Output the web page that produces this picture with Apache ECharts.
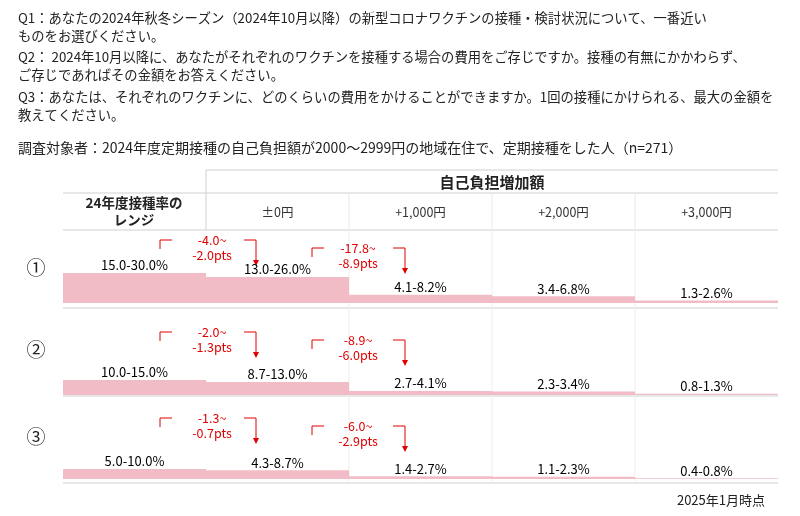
<!DOCTYPE html>
<html><head><meta charset="utf-8">
<script src="https://cdn.jsdelivr.net/npm/echarts@6/dist/echarts.min.js"></script>
<style>body{margin:0}#c{width:800px;height:516px}</style></head>
<body><div id="c"></div>
<script>
var cats = ['24年度', '±0円', '+1,000円', '+2,000円', '+3,000円'];
var row1Lo = [15.0, 13.0, 4.1, 3.4, 1.3];
var row1Hi = [30.0, 26.0, 8.2, 6.8, 2.6];
var row2Lo = [10.0, 8.7, 2.7, 2.3, 0.8];
var row2Hi = [15.0, 13.0, 4.1, 3.4, 1.3];
var row3Lo = [5.0, 4.3, 1.4, 1.1, 0.4];
var row3Hi = [10.0, 8.7, 2.7, 2.3, 0.8];
var diffs = [
  ['-4.0~', '-2.0pts', '-17.8~', '-8.9pts'],
  ['-2.0~', '-1.3pts', '-8.9~', '-6.0pts'],
  ['-1.3~', '-0.7pts', '-6.0~', '-2.9pts']
];
var colHeads = ['±0円', '+1,000円', '+2,000円', '+3,000円'];
var questions = [
  'Q1：あなたの2024年秋冬シーズン（2024年10月以降）の新型コロナワクチンの接種・検討状況について、一番近い',
  'ものをお選びください。',
  'Q2： 2024年10月以降に、あなたがそれぞれのワクチンを接種する場合の費用をご存じですか。接種の有無にかかわらず、',
  'ご存じであればその金額をお答えください。',
  'Q3：あなたは、それぞれのワクチンに、どのくらいの費用をかけることができますか。1回の接種にかけられる、最大の金額を',
  '教えてください。'
];

var font = '"Noto Sans CJK JP", sans-serif';
var chart = echarts.init(document.getElementById('c'));
var rows = [
  {lo: row1Lo, hi: row1Hi, top: 230, h: 73, mark: '①', my: 268},
  {lo: row2Lo, hi: row2Hi, top: 312, h: 83, mark: '②', my: 350},
  {lo: row3Lo, hi: row3Hi, top: 398, h: 81, mark: '③', my: 437}
];

var grids = [], xAxes = [], yAxes = [], series = [];
rows.forEach(function (r, i) {
  grids.push({left: 63, right: 22, top: r.top, height: r.h});
  xAxes.push({type: 'category', data: cats, gridIndex: i, show: false});
  yAxes.push({type: 'value', gridIndex: i, min: 0, max: r.h, show: false});
  series.push({
    type: 'bar', xAxisIndex: i, yAxisIndex: i, data: r.hi,
    barCategoryGap: 0, itemStyle: {color: '#f2bcc7'}, silent: true,
    label: {
      show: true, position: 'top', distance: 1, color: '#000', fontSize: 13,
      fontFamily: font,
      formatter: function (p) { return r.lo[p.dataIndex].toFixed(1) + '-' + r.hi[p.dataIndex].toFixed(1) + '%'; }
    }
  });
});

var g = [];
function text(x, y, s, o) {
  g.push({type: 'text', x: x, y: y, style: Object.assign({text: s, fill: '#222', font: '14px ' + font}, o || {})});
}
function line(x1, y1, x2, y2, c) {
  g.push({type: 'line', shape: {x1: x1, y1: y1, x2: x2, y2: y2}, style: {stroke: c || '#d0d0d0', lineWidth: 1}});
}
var qy = [18, 36, 57, 75, 97, 115];
questions.forEach(function (q, i) { text(18, qy[i], q, {textVerticalAlign: 'middle', font: '13.3px ' + font}); });
text(18, 148, '調査対象者：2024年度定期接種の自己負担額が2000～2999円の地域在住で、定期接種をした人（n=271）', {textVerticalAlign: 'middle', font: '14px ' + font});

// table frame
line(206, 170, 778, 170);
line(206, 193, 778, 193);
line(63, 193, 206, 193);
line(206, 170, 206, 230);
line(63, 230, 778, 230);
[349, 492, 635].forEach(function (x) { line(x, 193, x, 230, '#e8e8e8'); });
[308, 396, 483].forEach(function (y) { line(63, y, 778, y); });
[349, 492, 635].forEach(function (x) { line(x, 230, x, 483, '#eeeeee'); });
text(492, 182, '自己負担増加額', {textAlign: 'center', textVerticalAlign: 'middle', font: 'bold 15px ' + font});
text(134, 211, '24年度接種率の\nレンジ', {textAlign: 'center', textVerticalAlign: 'middle', font: 'bold 13.5px ' + font, lineHeight: 17});
colHeads.forEach(function (s, i) {
  text(277.5 + i * 143, 212, s, {textAlign: 'center', textVerticalAlign: 'middle', font: '12.5px ' + font, fill: '#333'});
});

// row markers and change annotations
var red = '#e00000';
rows.forEach(function (r, i) {
  text(36, r.my, r.mark, {textAlign: 'center', textVerticalAlign: 'middle', font: '19px ' + font});
  var b = r.top + (i === 0 ? 10 : 20);
  var d = diffs[i];
  [[160, 256, 212, 0], [312, 405, 358, 8]].forEach(function (a, k) {
    var y = b + a[3];
    line(a[0], y + 9, a[0], y, red);
    line(a[0], y, a[0] + 12, y, red);
    line(a[1] - 12, y, a[1], y, red);
    line(a[1], y, a[1], y + 22, red);
    g.push({type: 'polygon', shape: {points: [[a[1] - 3, y + 20], [a[1] + 3, y + 20], [a[1], y + 26]]}, style: {fill: red}});
    text(a[2], y + 8, d[k * 2] + '\n' + d[k * 2 + 1], {textAlign: 'center', textVerticalAlign: 'middle', fill: red, font: '12.5px ' + font, lineHeight: 15});
  });
});
text(765, 500, '2025年1月時点', {textAlign: 'right', textVerticalAlign: 'middle', font: '13px ' + font});

chart.setOption({
  animation: false,
  grid: grids, xAxis: xAxes, yAxis: yAxes, series: series,
  graphic: g
});
</script></body></html>
